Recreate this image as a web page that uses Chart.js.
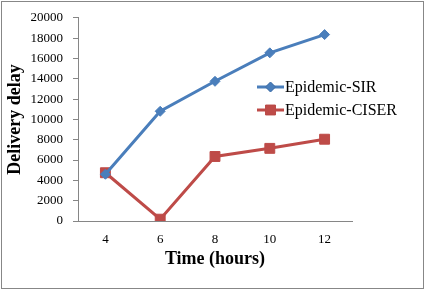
<!DOCTYPE html>
<html>
<head>
<meta charset="utf-8">
<script src="https://cdn.jsdelivr.net/npm/chart.js@4/dist/chart.umd.min.js"></script>
<style>
    html, body { margin: 0; padding: 0; background: #fff; }
    #wrap { width: 427px; height: 291px; }
</style>
</head>
<body>
<div id="wrap"><canvas id="delay-canvas" width="427" height="291"></canvas></div>
<script>
const hours = ['4', '6', '8', '10', '12'];
const sirDelay = [4600, 10800, 13750, 16550, 18350];
const ciserDelay = [4750, 180, 6350, 7150, 8050];
const yTicks = [0, 2000, 4000, 6000, 8000, 10000, 12000, 14000, 16000, 18000, 20000];

const serif = 'Liberation Serif';
const blue = '#4A7EBB';
const red = '#BE4B48';

// frame + legend drawn on top of the chart like the office export
const frameAndLegend = {
    id: 'frameAndLegend',
    afterDraw(chart) {
        let ctx = chart.ctx;
        ctx.save();
        ctx.strokeStyle = '#878787';
        ctx.lineWidth = 1;
        ctx.strokeRect(1.5, 1.5, 422, 287);

        let rows = [
            { ds: chart.data.datasets[0], y: 87 },
            { ds: chart.data.datasets[1], y: 110 }
        ];
        rows.forEach(r => {
            ctx.strokeStyle = r.ds.borderColor;
            ctx.lineWidth = r.ds.borderWidth;
            ctx.beginPath();
            ctx.moveTo(257, r.y);
            ctx.lineTo(284, r.y);
            ctx.stroke();
            ctx.lineWidth = 1;
            Chart.helpers.drawPoint(ctx, {
                pointStyle: r.ds.pointStyle,
                radius: r.ds.pointRadius,
                borderWidth: 1
            }, 270.5, r.y);
            ctx.fillStyle = r.ds.borderColor;
            ctx.fill();
            ctx.fillStyle = '#000';
            ctx.font = '16px "' + serif + '"';
            ctx.textBaseline = 'middle';
            ctx.fillText(r.ds.label, 285, r.y + 1);
        });
        ctx.restore();
    }
};

let chart = new Chart(document.getElementById('delay-canvas').getContext('2d'), {
    type: 'line',
    data: {
        labels: hours,
        datasets: [{
            label: 'Epidemic-SIR',
            data: sirDelay,
            borderColor: blue,
            backgroundColor: blue,
            borderWidth: 3,
            pointStyle: 'rectRot',
            pointRadius: 5,
            pointHoverRadius: 5,
            pointBorderWidth: 1
        }, {
            label: 'Epidemic-CISER',
            data: ciserDelay,
            borderColor: red,
            backgroundColor: red,
            borderWidth: 3,
            pointStyle: 'rect',
            pointRadius: 7,
            pointHoverRadius: 7,
            pointBorderWidth: 1
        }]
    },
    options: {
        responsive: false,
        animation: false,
        events: [],
        layout: { padding: { left: 0, top: 15, right: 75, bottom: 20 } },
        plugins: {
            legend: { display: false },
            tooltip: { enabled: false }
        },
        scales: {
            x: {
                offset: true,
                grid: { display: false, drawTicks: true, tickLength: 5 },
                border: { display: true, color: '#868686', width: 1 },
                ticks: { color: '#000', padding: 6, font: { family: serif, size: 13 } },
                title: {
                    display: true,
                    text: 'Time (hours)',
                    color: '#000',
                    padding: { top: 0, bottom: 1 },
                    font: { family: serif, size: 18, weight: 'bold' }
                },
                afterFit(scale) { scale.height = 50; }
            },
            y: {
                min: 0,
                max: 20000,
                afterBuildTicks(scale) { scale.ticks = yTicks.map(v => ({ value: v })); },
                grid: { display: true, drawOnChartArea: false, drawTicks: true, tickLength: 5, color: '#868686' },
                border: { display: true, color: '#868686', width: 1 },
                ticks: {
                    color: '#000',
                    padding: 10,
                    font: { family: serif, size: 13 },
                    callback: v => String(v)
                },
                title: {
                    display: true,
                    text: 'Delivery delay',
                    color: '#000',
                    padding: { top: 5, bottom: 0 },
                    font: { family: serif, size: 18, weight: 'bold' }
                },
                afterFit(scale) { scale.width = 78; }
            }
        }
    },
    plugins: [frameAndLegend]
});
</script>
</body>
</html>
